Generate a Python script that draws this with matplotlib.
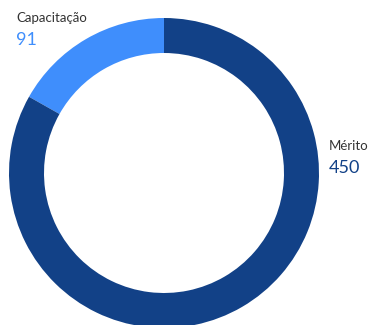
import matplotlib.pyplot as plt

labels = ['Capacitação', 'Mérito']
values = [91, 450]
colors = ['#3f8efc', '#124187']

W, H = 368, 325
fig = plt.figure(figsize=(W / 100, H / 100), dpi=100)
ax = fig.add_axes([0, 0, 1, 1])

# donut, pixel coords (y flipped)
cx, cy, r = 164, H - 173, 155
ax.pie(values, colors=colors, startangle=90, counterclock=True,
       center=(cx, cy), radius=r, frame=True,
       wedgeprops=dict(width=35, linewidth=0))
ax.set_xlim(0, W)
ax.set_ylim(0, H)
ax.set_aspect('equal')
ax.axis('off')

# labels
ax.text(16, H - 22, labels[0], fontsize=9.5, color='#333333', family='Lato', va='baseline')
ax.text(16, H - 45, str(values[0]), fontsize=13, color=colors[0], family='Lato', va='baseline')
ax.text(329, H - 150, labels[1], fontsize=9.5, color='#333333', family='Lato', va='baseline')
ax.text(329, H - 173, str(values[1]), fontsize=13, color=colors[1], family='Lato', va='baseline')

fig.savefig('out.png', dpi=100)
